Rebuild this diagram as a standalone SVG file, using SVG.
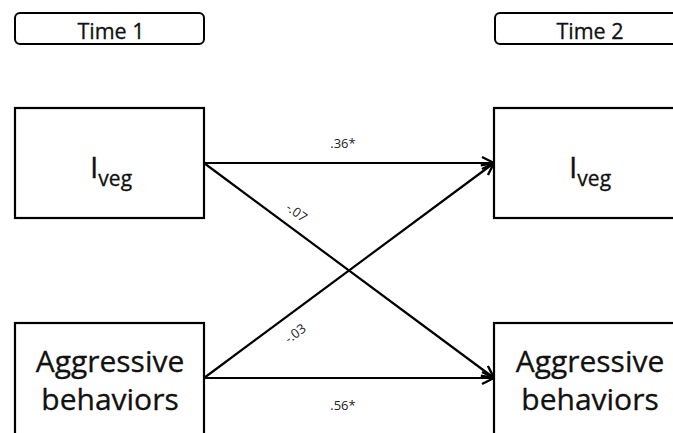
<svg xmlns="http://www.w3.org/2000/svg" width="673" height="433" viewBox="0 0 673 433">
<style>
.box{fill:#fff;stroke:#000;stroke-width:2.2}
.hdr{fill:#fff;stroke:#000;stroke-width:2}
.t{font-family:"Open Sans","Liberation Sans",sans-serif;fill:#111;text-anchor:middle;stroke:#111;stroke-width:0.3}
.big{font-size:30px}
.sub{font-size:21px}
.time{font-size:21.5px}
.lbl{font-family:"Open Sans","Liberation Sans",sans-serif;font-size:13px;fill:#222;text-anchor:middle}
.edge{stroke:#000;stroke-width:2.2;fill:none;marker-end:url(#arr)}
</style>
<defs>
<marker id="arr" markerUnits="userSpaceOnUse" markerWidth="16" markerHeight="16" viewBox="0 0 16 16" refX="14" refY="8" orient="auto">
<path d="M2,2 L14,8 L2,14" fill="none" stroke="#000" stroke-width="2.4" stroke-linejoin="miter"/>
</marker>
</defs>
<rect width="673" height="433" fill="#fff"/>
<g id="time1">
<rect class="hdr" x="15" y="13" width="189" height="31" rx="5"/>
<text class="t time" x="111" y="39">Time 1</text>
</g>
<g id="time2">
<rect class="hdr" x="495" y="13" width="189" height="31" rx="5"/>
<text class="t time" x="590" y="39">Time 2</text>
</g>
<g id="connectors">
<line class="edge" x1="204" y1="163" x2="494" y2="163"/>
<line class="edge" x1="204" y1="163" x2="494" y2="378"/>
<line class="edge" x1="204" y1="378" x2="494" y2="163"/>
<line class="edge" x1="204" y1="378" x2="494" y2="378"/>
<text class="lbl" x="343" y="148">.36*</text>
<text class="lbl" x="343" y="410">.56*</text>
<text class="lbl" transform="translate(294,216) rotate(36.5)">-.07</text>
<text class="lbl" transform="translate(298,337) rotate(-36.5)">-.03</text>
</g>
<g id="iveg1">
<rect class="box" x="15" y="108" width="189" height="110"/>
<text class="t big" x="111" y="178">I<tspan class="sub" dy="8">veg</tspan></text>
</g>
<g id="iveg2">
<rect class="box" x="494" y="108" width="189" height="110"/>
<text class="t big" x="590" y="178">I<tspan class="sub" dy="8">veg</tspan></text>
</g>
<g id="aggr1">
<rect class="box" x="15" y="323" width="189" height="120"/>
<text class="t big" x="110" y="372">Aggressive</text>
<text class="t big" x="110" y="410">behaviors</text>
</g>
<g id="aggr2">
<rect class="box" x="494" y="323" width="189" height="120"/>
<text class="t big" x="590" y="372">Aggressive</text>
<text class="t big" x="590" y="410">behaviors</text>
</g>
</svg>
